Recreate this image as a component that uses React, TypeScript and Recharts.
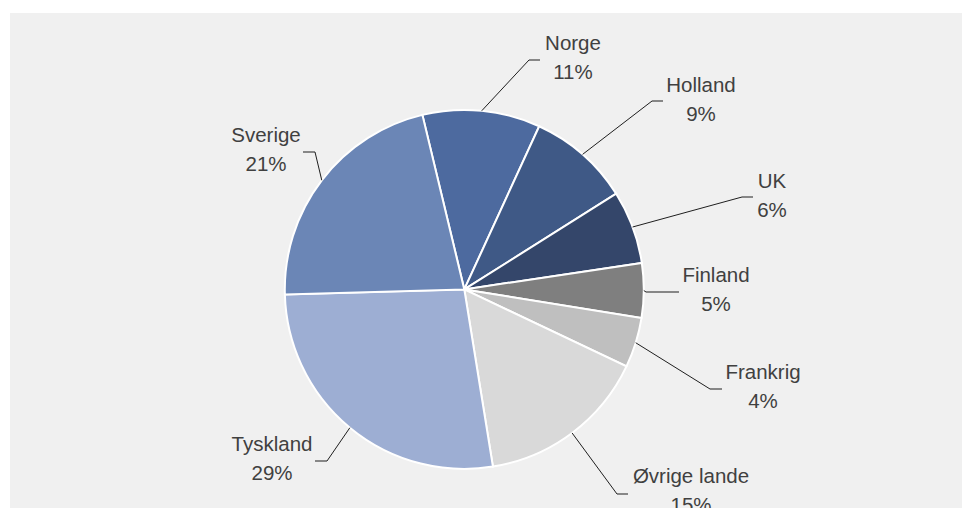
import React from 'react';
import { PieChart, Pie, Cell } from 'recharts';

const countries = ['Norge', 'Holland', 'UK', 'Finland', 'Frankrig', 'Øvrige lande', 'Tyskland', 'Sverige'];
const shares = [10.6, 9.2, 6.6, 4.9, 4.5, 15.4, 27.1, 21.7];
// percentages as printed on the labels
const shareLabels = ['11%', '9%', '6%', '5%', '4%', '15%', '29%', '21%'];

const COLORS = ['#4d6a9f', '#3f5986', '#34466a', '#7f7f7f', '#bfbfbf', '#d9d9d9', '#9daed3', '#6b86b6'];

// manual label placement (text centre, first baseline, leader elbow, leader end)
const LABEL_LAYOUT = [
  { tx: 573, ty: 50, ex: 529, ey: 60, hx: 540 },
  { tx: 701, ty: 92, ex: 652, ey: 101, hx: 663 },
  { tx: 772, ty: 188, ex: 742, ey: 197, hx: 753 },
  { tx: 716, ty: 282, ex: 646, ey: 292, hx: 679 },
  { tx: 763, ty: 379, ex: 710, ey: 389, hx: 722 },
  { tx: 691, ty: 483, ex: 617, ey: 494, hx: 628 },
  { tx: 272, ty: 451, ex: 327, ey: 461, hx: 315 },
  { tx: 266, ty: 142, ex: 315, ey: 152, hx: 303 },
];

const RADIAN = Math.PI / 180;
const FONT = '"Liberation Sans", Arial, sans-serif';

const data = countries.map((name, i) => ({ name, value: shares[i], pct: shareLabels[i] }));

const renderLabel = (props: any) => {
  const { cx, cy, midAngle, outerRadius, index } = props;
  const l = LABEL_LAYOUT[index];
  const sx = cx + outerRadius * Math.cos(-midAngle * RADIAN);
  const sy = cy + outerRadius * Math.sin(-midAngle * RADIAN);
  return (
    <g key={`lbl-${index}`}>
      <polyline
        points={`${sx},${sy} ${l.ex},${l.ey} ${l.hx},${l.ey}`}
        fill="none"
        stroke="#1f1f1f"
        strokeWidth={1}
      />
      <text x={l.tx} y={l.ty} textAnchor="middle" fill="#404040" fontSize={20.5} fontFamily={FONT}>
        {countries[index]}
      </text>
      <text x={l.tx} y={l.ty + 29} textAnchor="middle" fill="#404040" fontSize={20.5} fontFamily={FONT}>
        {shareLabels[index]}
      </text>
    </g>
  );
};

const App: React.FC = () => {
  return (
    <div style={{ position: 'absolute', left: 0, top: 0, width: 962, height: 508, background: '#ffffff', overflow: 'hidden' }}>
      <div style={{ position: 'absolute', left: 10, top: 13, width: 952, height: 495, background: '#f0f0f0' }} />
      <div style={{ position: 'absolute', left: 0, top: 0 }}>
        <PieChart width={962} height={508} margin={{ top: 0, right: 0, bottom: 0, left: 0 }}>
          <Pie
            data={data}
            dataKey="value"
            nameKey="name"
            cx={464.3}
            cy={289.4}
            outerRadius={179.5}
            startAngle={103.5}
            endAngle={-256.5}
            stroke="#ffffff"
            strokeWidth={2}
            label={renderLabel}
            labelLine={false}
            isAnimationActive={false}
          >
            {data.map((entry, index) => (
              <Cell key={`cell-${index}`} fill={COLORS[index % COLORS.length]} />
            ))}
          </Pie>
        </PieChart>
      </div>
    </div>
  );
};

export default App;
